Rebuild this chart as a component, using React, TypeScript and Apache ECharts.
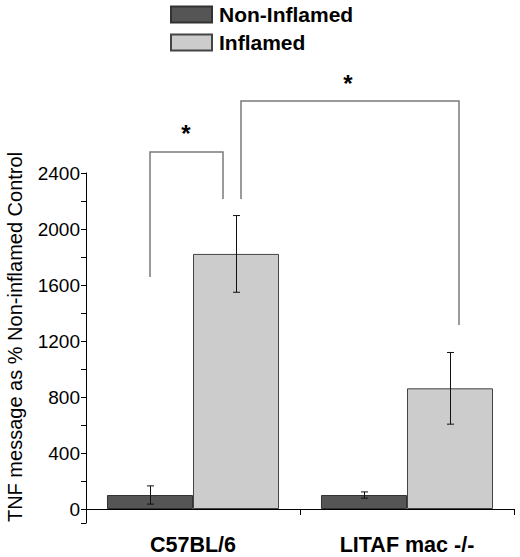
import React, { useEffect, useRef } from "react";
import * as echarts from "echarts";

const categories = ["C57BL/6", "LITAF mac -/-"];
const seriesNames = ["Non-Inflamed", "Inflamed"];
const nonInflamed = [100, 100];
const nonInflamedErr = [65, 22];
const inflamed = [1822, 862];
const inflamedErr = [274, 256];
const yTickValues = [-100, 0, 200, 400, 600, 800, 1000, 1200, 1400, 1600, 1800, 2000, 2200, 2400];
const yLabelValues = [0, 400, 800, 1200, 1600, 2000, 2400];

const CAT_GAP = 0.196;
const FONT = "Liberation Sans, Arial, sans-serif";

export default function App() {
  const ref = useRef<HTMLDivElement>(null);
  useEffect(() => {
    if (!ref.current) return;
    const chart = echarts.init(ref.current, null, { renderer: "svg" });

    const errData: number[][] = [];
    categories.forEach((_, i) => {
      errData.push([i, nonInflamed[i], nonInflamedErr[i], -1]);
      errData.push([i, inflamed[i], inflamedErr[i], 1]);
    });

    const option: any = {
      animation: false,
      backgroundColor: "#ffffff",
      textStyle: { fontFamily: FONT },
      legend: {
        data: seriesNames,
        orient: "vertical",
        left: 170,
        top: 4,
        itemWidth: 41,
        itemHeight: 16,
        itemGap: 7,
        icon: "rect",
        padding: 0,
        textStyle: { fontSize: 21, fontWeight: "bold", color: "#000", fontFamily: FONT, padding: [0, 0, 0, 2] },
      },
      grid: { left: 86, right: 6, top: 173, bottom: 34, containLabel: false, outerBoundsMode: "none" },
      xAxis: {
        type: "category",
        data: categories,
        axisLine: { lineStyle: { color: "#000", width: 1 } },
        axisTick: { show: true, length: 6, lineStyle: { color: "#000" } },
        axisLabel: { fontSize: 21.5, fontWeight: "bold", color: "#000", fontFamily: FONT, margin: 11 },
      },
      yAxis: {
        type: "value",
        min: -100,
        max: 2400,
        name: "TNF message as % Non-inflamed Control",
        nameLocation: "middle",
        nameGap: 61,
        nameTextStyle: { fontSize: 20, color: "#000", fontFamily: FONT, padding: [0, 0, 0, 22] },
        splitLine: { show: false },
        axisLine: { show: true, lineStyle: { color: "#000", width: 1 } },
        axisTick: { show: true, length: 5, customValues: yTickValues, lineStyle: { color: "#000" } },
        axisLabel: {
          fontSize: 19,
          color: "#000",
          fontFamily: FONT,
          margin: 6,
          customValues: yLabelValues,
          formatter: (v: number) => String(v),
        },
      },
      series: [
        {
          name: seriesNames[0],
          type: "bar",
          data: nonInflamed,
          barGap: "0%",
          barCategoryGap: CAT_GAP * 100 + "%",
          itemStyle: { color: "#555555", borderColor: "#333333", borderWidth: 1 },
        },
        {
          name: seriesNames[1],
          type: "bar",
          data: inflamed,
          barGap: "0%",
          barCategoryGap: CAT_GAP * 100 + "%",
          itemStyle: { color: "#cccccc", borderColor: "#444444", borderWidth: 1 },
        },
        {
          type: "custom",
          name: "err",
          data: errData,
          encode: { x: 0, y: 1 },
          z: 10,
          renderItem: (params: any, api: any) => {
            const cat = api.value(0);
            const val = api.value(1);
            const err = api.value(2);
            const off = api.value(3);
            const band = api.size([1, 0])[0];
            const barW = (band * (1 - CAT_GAP)) / 2;
            const c = api.coord([cat, val]);
            const x = Math.round(c[0] + (off * barW) / 2) + 0.5;
            const hi = api.coord([cat, val + err])[1];
            const lo = api.coord([cat, val - err])[1];
            const cap = 3.5;
            const st = { stroke: "#111", lineWidth: 1 };
            return {
              type: "group",
              children: [
                { type: "line", shape: { x1: x, y1: hi, x2: x, y2: lo }, style: st },
                { type: "line", shape: { x1: x - cap, y1: hi, x2: x + cap, y2: hi }, style: st },
                { type: "line", shape: { x1: x - cap, y1: lo, x2: x + cap, y2: lo }, style: st },
              ],
            };
          },
        },
      ],
      graphic: [
        {
          type: "polyline",
          shape: { points: [[150, 277], [150, 152], [223, 152], [223, 199]] },
          style: { stroke: "#7a7a7a", lineWidth: 1.5, fill: "none" },
        },
        {
          type: "polyline",
          shape: { points: [[241, 199], [241, 101], [459, 101], [459, 325]] },
          style: { stroke: "#7a7a7a", lineWidth: 1.5, fill: "none" },
        },
        {
          type: "text",
          x: 186,
          y: 133,
          style: { text: "*", font: "bold 24px " + FONT, fill: "#000", align: "center", verticalAlign: "middle" },
        },
        {
          type: "text",
          x: 348,
          y: 83,
          style: { text: "*", font: "bold 24px " + FONT, fill: "#000", align: "center", verticalAlign: "middle" },
        },
      ],
    };
    chart.setOption(option);
    return () => chart.dispose();
  }, []);
  return (
    <div
      ref={ref}
      style={{ position: "absolute", left: 0, top: 0, width: 520, height: 557 }}
    />
  );
}
